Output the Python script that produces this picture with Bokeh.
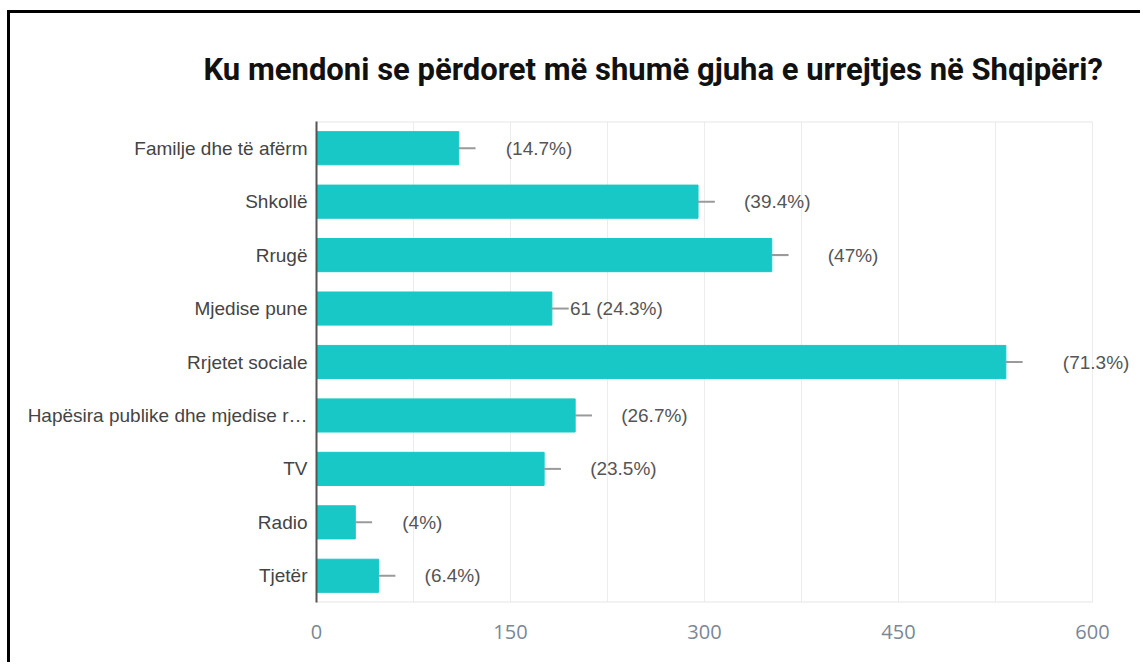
from bokeh.plotting import figure
from bokeh.models import FactorRange, Range1d, FixedTicker, Title, ColumnDataSource, LabelSet
from bokeh.core.properties import value
from bokeh.embed import file_html
from bokeh.resources import INLINE

# ---- data ----
title_text = "Ku mendoni se përdoret më shumë gjuha e urrejtjes në Shqipëri?"
categories = ["Familje dhe të afërm", "Shkollë", "Rrugë", "Mjedise pune",
              "Rrjetet sociale", "Hapësira publike dhe mjedise r…", "TV",
              "Radio", "Tjetër"]
counts = [110, 295, 352, 182, 533, 200, 176, 30, 48]
labels = ["(14.7%)", "(39.4%)", "(47%)", "61 (24.3%)", "(71.3%)",
          "(26.7%)", "(23.5%)", "(4%)", "(6.4%)"]
x_ticks = [0, 150, 300, 450, 600]
grid_ticks = [0, 75, 150, 225, 300, 375, 450, 525, 600]
axis_max = 600

# ---- styles ----
label_gap_px = [47, 46, 56, 18, 57, 46, 46, 47, 46]
whisker_len = 13
bar_color = "#17c8c7"
frame_w_axis = 776          # pixels spanned by 0..axis_max
frame_w = 819               # frame extends past the axis to hold labels

src = ColumnDataSource(dict(cat=categories, cnt=counts, lab=labels,
                            gap=label_gap_px,
                            wend=[c + whisker_len for c in counts]))

p = figure(width=1133, height=652, output_backend="svg", toolbar_location=None,
           y_range=FactorRange(factors=list(reversed(categories))),
           x_range=Range1d(0, axis_max * frame_w / frame_w_axis),
           frame_width=frame_w, frame_height=481,
           min_border_left=306, min_border_right=8,
           min_border_top=108, min_border_bottom=63)
p.styles = {"box-shadow": "-3px -3px 0 0 #000000",
            "margin-left": "10px", "margin-top": "13px"}

t = Title(text=title_text, align="left", offset=-113,
          text_font="Roboto", text_font_style="bold",
          text_font_size="31px", text_color="#111111", standoff=67)
p.add_layout(t, "above")

# light frame lines (top / bottom) spanning the axis extent
p.segment(x0=[0, 0], x1=[axis_max, axis_max],
          y0=[(categories[0], 0.5), (categories[-1], -0.5)],
          y1=[(categories[0], 0.5), (categories[-1], -0.5)],
          line_color="#e6e6e6", line_width=2)

p.hbar(y="cat", right="cnt", left=0, height=0.62, color=bar_color, source=src)
p.segment(x0="cnt", x1="wend", y0="cat", y1="cat", line_color="#9a9a9a",
          line_width=2, source=src)
lbl = LabelSet(x="cnt", y="cat", text="lab", x_offset="gap", source=src,
               text_font=value("Liberation Sans"), text_font_size="19px",
               text_color="#555555", text_baseline="middle", text_align="left")
p.add_layout(lbl)

p.xgrid.ticker = FixedTicker(ticks=grid_ticks)
p.xgrid.grid_line_color = "#ececec"
p.ygrid.grid_line_color = None
p.outline_line_color = None

p.xaxis.ticker = FixedTicker(ticks=x_ticks)
p.xaxis.axis_line_color = None
p.xaxis.major_tick_line_color = None
p.xaxis.minor_tick_line_color = None
p.xaxis.major_label_standoff = 16
p.xaxis.major_label_text_font = "Open Sans"
p.xaxis.major_label_text_font_size = "20px"
p.xaxis.major_label_text_color = "#7a8796"

p.yaxis.axis_line_color = "#555555"
p.yaxis.axis_line_width = 2
p.yaxis.major_tick_line_color = None
p.yaxis.minor_tick_line_color = None
p.yaxis.major_label_standoff = 3
p.yaxis.major_label_text_font = "Liberation Sans"
p.yaxis.major_label_text_font_size = "19px"
p.yaxis.major_label_text_color = "#444444"

open("out.html", "w").write(file_html(p, INLINE))
